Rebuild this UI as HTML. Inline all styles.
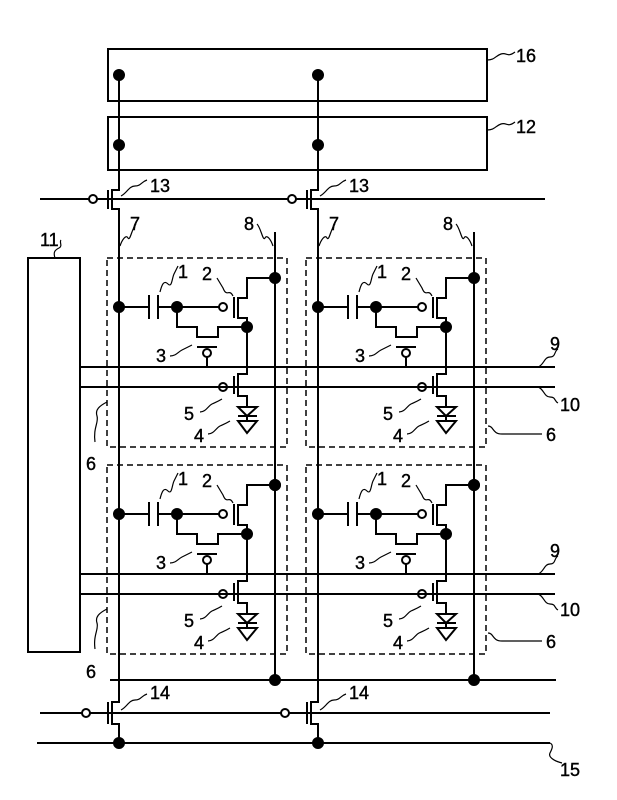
<!DOCTYPE html>
<html><head><style>html,body{margin:0;padding:0;background:#fff}svg{display:block}text{font-family:"Liberation Sans",sans-serif;font-size:18px;fill:#000;stroke:#000;stroke-width:0.4}</style></head>
<body>
<svg width="617" height="800" viewBox="0 0 617 800" xmlns="http://www.w3.org/2000/svg" stroke="#000" stroke-width="2" fill="none">
<defs>
<g id="cell">
  <rect x="107" y="258" width="180" height="189" stroke-width="1.5" stroke-dasharray="6,4"/>
  <circle cx="119" cy="307" r="5" fill="#000"/>
  <path d="M119 307H149M149 295V319M158 295V319M158 307H219"/>
  <circle cx="177" cy="307" r="5" fill="#000"/>
  <circle cx="223" cy="307" r="4" fill="#fff"/>
  <path d="M234 297V318M238 297V319M238 298H247V278H275M238 318H247V366"/>
  <circle cx="275" cy="278" r="5" fill="#000"/>
  <circle cx="247" cy="327" r="5" fill="#000"/>
  <path d="M177 307V327H197V337H218V327H247M197 347H217M207 357V367"/>
  <circle cx="207" cy="353" r="4" fill="#fff"/>
  <path d="M247 366V374H238V396H247V407M234 376V394M227 387H234"/>
  <circle cx="223" cy="387" r="4" fill="#fff"/>
  <path d="M238 407H257L247 416ZM238 416H257M247 416V421M238 421H257L247 433Z"/>
  <path d="M160 292c2-8 4-12 8-8s4-6 6-10l4-8" stroke-width="1.2"/>
  <path d="M233 296c-4-8-6 2-10-8l-6-10" stroke-width="1.2"/>
  <path d="M170 356c6 0 8-4 12-6s4-2 10-5" stroke-width="1.2"/>
  <path d="M200 412c6 0 8-6 12-8s5-2 10-5" stroke-width="1.2"/>
  <path d="M208 434c6 0 8-6 12-8s5-2 10-5" stroke-width="1.2"/>
  <text x="178" y="278" stroke="none">1</text>
  <text x="202" y="280" stroke="none">2</text>
  <text x="156" y="362" stroke="none">3</text>
  <text x="184" y="420" stroke="none">5</text>
  <text x="194" y="442" stroke="none">4</text>
</g>
<g id="t13">
  <path d="M119 75V190H112V209H119V680M108 190V209M97 199H108"/>
  <circle cx="93" cy="199" r="4" fill="#fff"/>
  <circle cx="119" cy="75" r="5" fill="#000"/>
  <circle cx="119" cy="145" r="5" fill="#000"/>
  <path d="M119 680V702H112V724H119V743M108 702V724M90 713H108"/>
  <circle cx="86" cy="713" r="4" fill="#fff"/>
  <circle cx="119" cy="743" r="5" fill="#000"/>
  <path d="M275 232V680"/>
  <circle cx="275" cy="485" r="5" fill="#000"/>
  <circle cx="275" cy="680" r="5" fill="#000"/>
  <path d="M121 196c6-3 8-10 14-10s6-4 12-6" stroke-width="1.2"/>
  <text x="150" y="192" stroke="none">13</text>
  <path d="M120 246c2-6 6-12 8-8s4-10 8-14" stroke-width="1.2"/>
  <text x="130" y="230" stroke="none">7</text>
  <path d="M273 246c-2-6-6-12-8-8s-4-10-8-14" stroke-width="1.2"/>
  <text x="244" y="230" stroke="none">8</text>
  <path d="M121 710c6-3 8-10 14-10s6-4 12-6" stroke-width="1.2"/>
  <text x="150" y="699" stroke="none">14</text>
</g>
</defs>
<rect x="108" y="49" width="379" height="52"/>
<rect x="108" y="117" width="379" height="53"/>
<path d="M487 60c8 0 8-4 14-6s6 4 14-2" stroke-width="1.2"/>
<text x="516" y="62" stroke="none">16</text>
<path d="M487 130c8 0 8-4 14-6s6 4 14-2" stroke-width="1.2"/>
<text x="516" y="133" stroke="none">12</text>
<path d="M40 199H89M97 199H288M296 199H545"/>
<path d="M40 713H82M90 713H281M289 713H550"/>
<path d="M37 743H550M110 680H556"/>
<path d="M550 743c4 2 2 6 0 10s4 8 12 10" stroke-width="1.2"/>
<text x="560" y="776" stroke="none">15</text>
<rect x="28" y="258" width="52" height="394"/>
<path d="M55 258c-2-6 0-8 4-10s0-6 2-8" stroke-width="1.2"/>
<text x="40" y="246" stroke="none">11</text>
<use href="#t13"/>
<use href="#t13" transform="translate(199,0)"/>
<use href="#cell"/>
<use href="#cell" transform="translate(199,0)"/>
<use href="#cell" transform="translate(0,207)"/>
<use href="#cell" transform="translate(199,207)"/>
<path d="M80 367H555M80 387H555M80 574H555M80 594H555"/>
<path d="M538 367c6-2 6-10 12-10s4-6 8-8" stroke-width="1.2"/>
<text x="550" y="350" stroke="none">9</text>
<path d="M538 387c6 2 6 10 12 10s4 4 8 6" stroke-width="1.2"/>
<text x="560" y="411" stroke="none">10</text>
<path d="M538 574c6-2 6-10 12-10s4-6 8-8" stroke-width="1.2"/>
<text x="550" y="557" stroke="none">9</text>
<path d="M538 594c6 2 6 10 12 10s4 4 8 6" stroke-width="1.2"/>
<text x="560" y="616" stroke="none">10</text>
<path d="M107 402c-8 4-12 8-10 14s-4 12-2 26" stroke-width="1.2"/>
<text x="86" y="470" stroke="none">6</text>
<path d="M107 609c-8 4-12 8-10 14s-4 12-2 26" stroke-width="1.2"/>
<text x="86" y="678" stroke="none">6</text>
<path d="M488 426c6 0 4 8 14 8h40" stroke-width="1.2"/>
<text x="546" y="441" stroke="none">6</text>
<path d="M488 633c6 0 4 8 14 8h40" stroke-width="1.2"/>
<text x="546" y="648" stroke="none">6</text>
</svg>
</body></html>
